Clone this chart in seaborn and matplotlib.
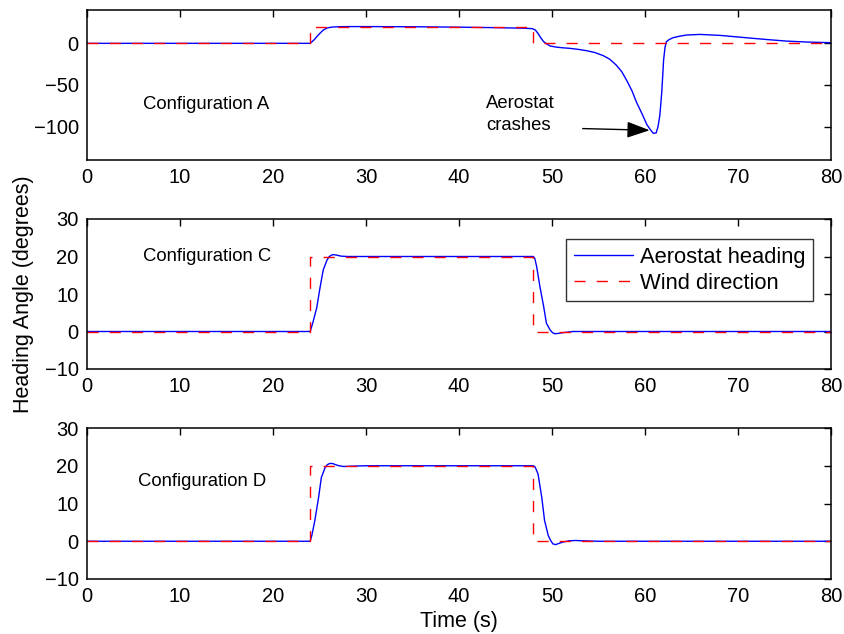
import numpy as np
import matplotlib
matplotlib.use("Agg")
import matplotlib.pyplot as plt
import seaborn as sns

# wind direction step (same in all three runs)
wind_t = [0, 24, 24, 48, 48, 80]
wind_v = [0, 0, 20, 20, 0, 0]

# Configuration A heading (crash)
a_t = [0, 24.0, 24.4, 24.7, 25.0, 25.4, 25.8, 26.1, 26.5, 27.0, 28.0, 30, 35, 40, 44,
       46.8, 47.9, 48.2, 48.5, 48.8, 49.1, 49.5, 49.8, 50.5, 51.2, 51.9, 52.8, 53.7,
       54.6, 55.5, 56.2, 56.9, 57.5, 58.0, 58.6, 59.1, 59.7, 60.2, 60.6, 60.9, 61.2,
       61.4, 61.6, 61.8, 61.9, 62.0, 62.15, 62.3, 62.6, 63.0, 63.7, 64.5, 65.9, 68.1,
       70.0, 71.6, 73.5, 75.2, 77.5, 80]
a_v = [0, 0, 4, 7.9, 11.5, 15.9, 18.3, 19.1, 19.6, 19.9, 20.1, 20.1, 19.9, 19.4, 18.8,
       18.2, 17.6, 16.0, 11.9, 6.5, 2.0, -1.2, -3.2, -4.6, -5.4, -6.0, -7.2, -8.8,
       -11.0, -14.7, -19.0, -26, -34, -43.8, -57, -71, -85, -97.5, -104, -108, -107.5,
       -100, -86, -59, -40, -20, -5, 2, 4.5, 6.7, 8.5, 10, 10.7, 9.5,
       7.6, 6.0, 4.2, 2.7, 1.5, 0.8]

# Configuration C heading
c_t = [0, 24.0, 24.3, 24.7, 25.05, 25.4, 25.8, 26.05, 26.4, 26.8, 27.3, 28.0, 30,
       48.0, 48.15, 48.35, 48.7, 49.1, 49.4, 49.8, 50.05, 50.3, 50.7, 51.2, 52.3, 55, 80]
c_v = [0, 0, 2.5, 6.3, 11.6, 16.4, 19.0, 20.0, 20.5, 20.4, 20.1, 20.0, 20.0,
       20.0, 19.5, 17.3, 12.0, 6.7, 2.2, 0.4, -0.3, -0.6, -0.5, -0.3, 0, 0, 0]

# Configuration D heading
d_t = [0, 24.0, 24.2, 24.5, 24.9, 25.2, 25.6, 25.85, 26.1, 26.4, 26.7, 27.1, 27.6, 28.6,
       30, 48.0, 48.2, 48.5, 48.9, 49.2, 49.6, 49.85, 50.1, 50.4, 50.7, 51.2, 51.8,
       52.5, 53.5, 55, 80]
d_v = [0, 0, 1.8, 5.5, 11.6, 16.9, 19.5, 20.3, 20.6, 20.6, 20.3, 20.0, 19.8, 19.9,
       20.0, 20.0, 19.6, 17.8, 11.6, 5.5, 1.5, 0.2, -0.7, -0.9, -0.6, -0.2, 0.1,
       0.2, 0.1, 0, 0]

config_labels = ["Configuration A", "Configuration C", "Configuration D"]
x_ticks = list(range(0, 81, 10))

sns.set_style("white")
plt.rcParams['font.family'] = ['Liberation Sans', 'DejaVu Sans']
plt.rcParams['text.color'] = 'black'
plt.rcParams['axes.labelcolor'] = 'black'

fig = plt.figure(figsize=(8.45, 6.34), dpi=100)
L, W = 87 / 845, 744 / 845
ax1 = fig.add_axes([L, (634 - 160) / 634, W, 150 / 634])
ax2 = fig.add_axes([L, (634 - 369) / 634, W, 150 / 634])
ax3 = fig.add_axes([L, (634 - 579) / 634, W, 151 / 634])


def draw(ax, t, v, first=False):
    sns.lineplot(x=t, y=v, ax=ax, color="blue", lw=1.0, sort=False, estimator=None,
                 label="Aerostat heading" if first else None, legend=False)
    sns.lineplot(x=wind_t, y=wind_v, ax=ax, color="red", lw=1.0, sort=False,
                 estimator=None, dashes=False, label="Wind direction" if first else None,
                 legend=False)
    ax.lines[-1].set_dashes((8, 8))
    ax.set_xlim(0, 80)
    ax.set_xticks(x_ticks)
    ax.tick_params(direction="in", length=5, width=1, top=True, right=True,
                   labelsize=14.5, pad=6, colors="black")
    for s in ax.spines.values():
        s.set_visible(True)
        s.set_color("black")
        s.set_linewidth(1.1)
    ax.set_xlabel("")
    ax.set_ylabel("")


draw(ax1, a_t, a_v)
ax1.set_ylim(-140, 40)
ax1.set_yticks([-100, -50, 0])
ax1.text(6, -73.6, config_labels[0], fontsize=13.3, va="center")
ax1.text(42.9, -85.7, "Aerostat\ncrashes", fontsize=13.3, va="center", linespacing=1.35)
ax1.annotate("", xy=(60.5, -104.3), xytext=(53.3, -102.3),
             arrowprops=dict(arrowstyle="-|>,head_length=0.7,head_width=0.25",
                             color="black", lw=1, mutation_scale=20,
                             shrinkA=0, shrinkB=0))

draw(ax2, c_t, c_v, first=True)
ax2.set_ylim(-10, 30)
ax2.set_yticks([-10, 0, 10, 20, 30])
ax2.text(6, 20, config_labels[1], fontsize=13.3, va="center")
ax2.set_ylabel("Heading Angle (degrees)", fontsize=15.5, labelpad=8)
leg = ax2.legend(loc="upper right", bbox_to_anchor=(0.976, 0.866), borderaxespad=0,
                 fontsize=15.8, frameon=True, fancybox=False, edgecolor="black",
                 handlelength=2.7, handletextpad=0.3, labelspacing=0.22, borderpad=0.35)
leg.get_frame().set_linewidth(1.0)
for h in leg.get_lines():
    if h.get_color() == "red":
        h.set_dashes((8, 8))

draw(ax3, d_t, d_v)
ax3.set_ylim(-10, 30)
ax3.set_yticks([-10, 0, 10, 20, 30])
ax3.text(5.5, 15.8, config_labels[2], fontsize=13.3, va="center")
ax3.set_xlabel("Time (s)", fontsize=15.5, labelpad=3)

fig.savefig("out.png", dpi=100)
